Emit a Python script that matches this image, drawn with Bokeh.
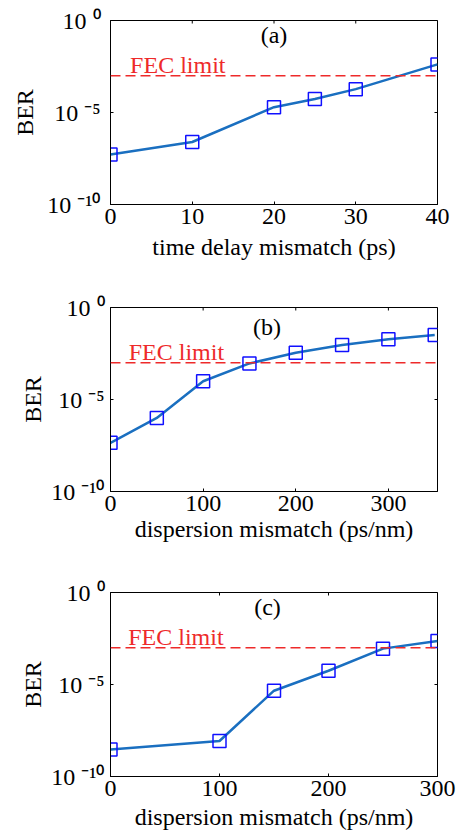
import math
from bokeh.plotting import figure
from bokeh.layouts import column
from bokeh.models import FixedTicker, Span, Label, Range1d, CustomJSTickFormatter
from bokeh.embed import file_html
from bokeh.resources import INLINE

# ---- data ----
a_x = [0, 10, 20, 25, 30, 40]
a_ber = [5.2e-8, 2.5e-7, 1.95e-5, 5.4e-5, 1.86e-4, 4.1e-3]

b_x = [0, 50, 100, 150, 200, 250, 300, 350]
b_ber = [4.4e-8, 1.0e-6, 9.8e-5, 9.1e-4, 3.5e-3, 9.1e-3, 1.9e-2, 3.2e-2]

c_x = [0, 100, 150, 200, 250, 300]
c_ber = [2.9e-9, 8.5e-9, 4.6e-6, 5.6e-5, 8.9e-4, 2.3e-3]

fec_limit = 1e-3
y_ticks = [1e-10, 1e-5, 1.0]
a_xticks = [0, 10, 20, 30, 40]
b_xticks = [0, 100, 200, 300]
c_xticks = [0, 100, 200, 300]

FONT = "Liberation Serif"
FS = "24px"
LINE_BLUE = "#1a6fc0"
MARK_BLUE = "#1010ff"
RED = "#ee2a2a"

sup_fmt = CustomJSTickFormatter(code="""
const sup = {'0':'\u2070','1':'\u00b9','2':'\u00b2','3':'\u00b3','4':'\u2074','5':'\u2075',
             '6':'\u2076','7':'\u2077','8':'\u2078','9':'\u2079','-':'\u207b'};
const e = Math.round(Math.log10(tick));
return '10 ' + String(e).split('').map(c => sup[c]).join('');
""")


def panel(xs, ys, xr, xticks, xlabel, tag, tag_xy, fec_xy, width, height, borders,
          y_std, x_lab_std):
    left, right, top, bottom = borders
    p = figure(width=width, height=height, x_range=Range1d(*xr), y_range=Range1d(1e-10, 1.0),
               y_axis_type="log", output_backend="svg", toolbar_location=None, title=None,
               min_border_left=left, min_border_right=right, min_border_top=top,
               min_border_bottom=bottom, background_fill_color="white")
    p.grid.visible = False
    p.outline_line_color = "black"
    p.outline_line_width = 1

    p.xaxis.ticker = FixedTicker(ticks=xticks, minor_ticks=[])
    p.yaxis.ticker = FixedTicker(ticks=y_ticks, minor_ticks=[])
    p.yaxis.formatter = sup_fmt
    for ax in (p.xaxis[0], p.yaxis[0]):
        ax.major_label_text_font = FONT
        ax.major_label_text_font_size = FS
        ax.major_label_text_color = "black"
        ax.axis_label_text_font = FONT
        ax.axis_label_text_font_size = FS
        ax.axis_label_text_font_style = "normal"
        ax.axis_label_text_color = "black"
        ax.major_tick_in = 3
        ax.major_tick_out = 0
        ax.minor_tick_line_color = None
        ax.axis_line_color = "black"
    p.xaxis.axis_label = xlabel
    p.yaxis.axis_label = "BER"
    p.xaxis.major_label_standoff = 4
    p.xaxis.axis_label_standoff = x_lab_std
    p.yaxis.major_label_standoff = y_std[0]
    p.yaxis.axis_label_standoff = y_std[1]

    # mirrored tick marks on the right and top edges of the box
    p.scatter([xr[1]] * len(y_ticks), y_ticks, marker="dash", size=6,
              line_color="black", line_width=1)
    p.scatter(xticks, [1.0] * len(xticks), marker="dash", angle=math.pi / 2, size=6,
              line_color="black", line_width=1)

    p.add_layout(Span(location=fec_limit, dimension="width", line_color=RED,
                      line_width=1.5, line_dash="10 5"))
    p.line(xs, ys, line_color=LINE_BLUE, line_width=2.5)
    p.scatter(xs, ys, marker="square", size=13, fill_color=None,
              line_color=MARK_BLUE, line_width=1.5)

    p.add_layout(Label(x=tag_xy[0], y=tag_xy[1], text=tag, text_font=FONT,
                       text_font_size=FS, text_align="center", text_baseline="middle",
                       text_color="black"))
    p.add_layout(Label(x=fec_xy[0], y=fec_xy[1], text="FEC limit", text_font=FONT,
                       text_font_size=FS, text_align="left", text_baseline="bottom",
                       text_color=RED))
    return p


pa = panel(a_x, a_ber, (0, 40), a_xticks, "time delay mismatch (ps)", "(a)",
           (20, 10 ** -0.8), (2.4, 10 ** -3.15), 458, 288, (107, 21, 20, 84), (10, 6), 7)
pb = panel(b_x, b_ber, (0, 353), b_xticks, "dispersion mismatch (ps/nm)", "(b)",
           (169, 10 ** -1.08), (19.7, 10 ** -3.15), 458, 282, (108, 11, 19, 79), (6, 2), 2)
pc = panel(c_x, c_ber, (0, 300), c_xticks, "dispersion mismatch (ps/nm)", "(c)",
           (144, 10 ** -0.78), (16.3, 10 ** -3.15), 458, 268, (110, 11, 22, 62), (6, 2), 5)

layout = column(pa, pb, pc, spacing=0)
open("out.html", "w").write(file_html(layout, INLINE))
